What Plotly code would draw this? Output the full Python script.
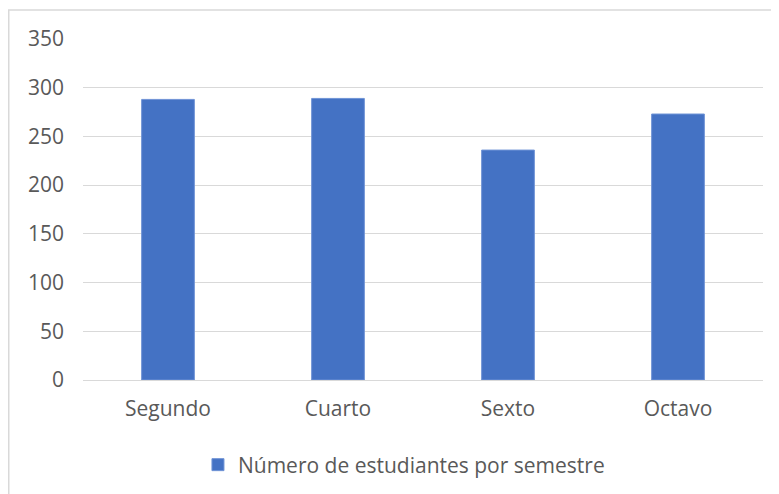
import plotly.graph_objects as go

categories = ["Segundo", "Cuarto", "Sexto", "Octavo"]
values = [288, 289, 236, 273]
series_name = "Número de estudiantes por semestre"
y_ticks = [0, 50, 100, 150, 200, 250, 300, 350]

# page has an 8px body margin, so figure is drawn at (8, 8)
W, H = 771, 486
L, R, T, B = 75, 16, 31, 114
PW, PH = W - L - R, H - T - B

fig = go.Figure()
fig.add_trace(go.Bar(
    x=categories, y=values, name=series_name,
    marker=dict(color="#4472C4", line=dict(color="#6f93d6", width=1)),
    width=0.31,
))

fig.update_layout(
    width=W, height=H,
    margin=dict(l=L, r=R, t=T, b=B, autoexpand=False),
    paper_bgcolor="white", plot_bgcolor="white",
    font=dict(family="Open Sans", size=21, color="#595959"),
    showlegend=True,
    legend=dict(orientation="h", x=0.472, xanchor="center",
                y=(PH - (457 - T)) / PH, yanchor="middle",
                font=dict(size=21, color="#595959"), itemwidth=30),
    xaxis=dict(showgrid=False, showline=True, linecolor="#d9d9d9", linewidth=1,
               ticks="", tickfont=dict(size=21, color="#595959"), ticklabelstandoff=10),
    yaxis=dict(range=[0, 350], tickvals=y_ticks, showgrid=True, gridcolor="#d9d9d9",
               gridwidth=1, zeroline=False, showline=False, ticks="",
               tickfont=dict(size=21, color="#595959"), ticklabelstandoff=18),
    shapes=[dict(type="rect", xref="paper", yref="paper",
                 x0=(0.75 - L) / PW, x1=(W + 20 - L) / PW,
                 y0=-(H + 20 - T - PH) / PH,
                 y1=(PH + T - 2) / PH,
                 line=dict(color="#d9d9d9", width=1.5), fillcolor="rgba(0,0,0,0)", layer="below")],
)
fig.write_html("out.html")
